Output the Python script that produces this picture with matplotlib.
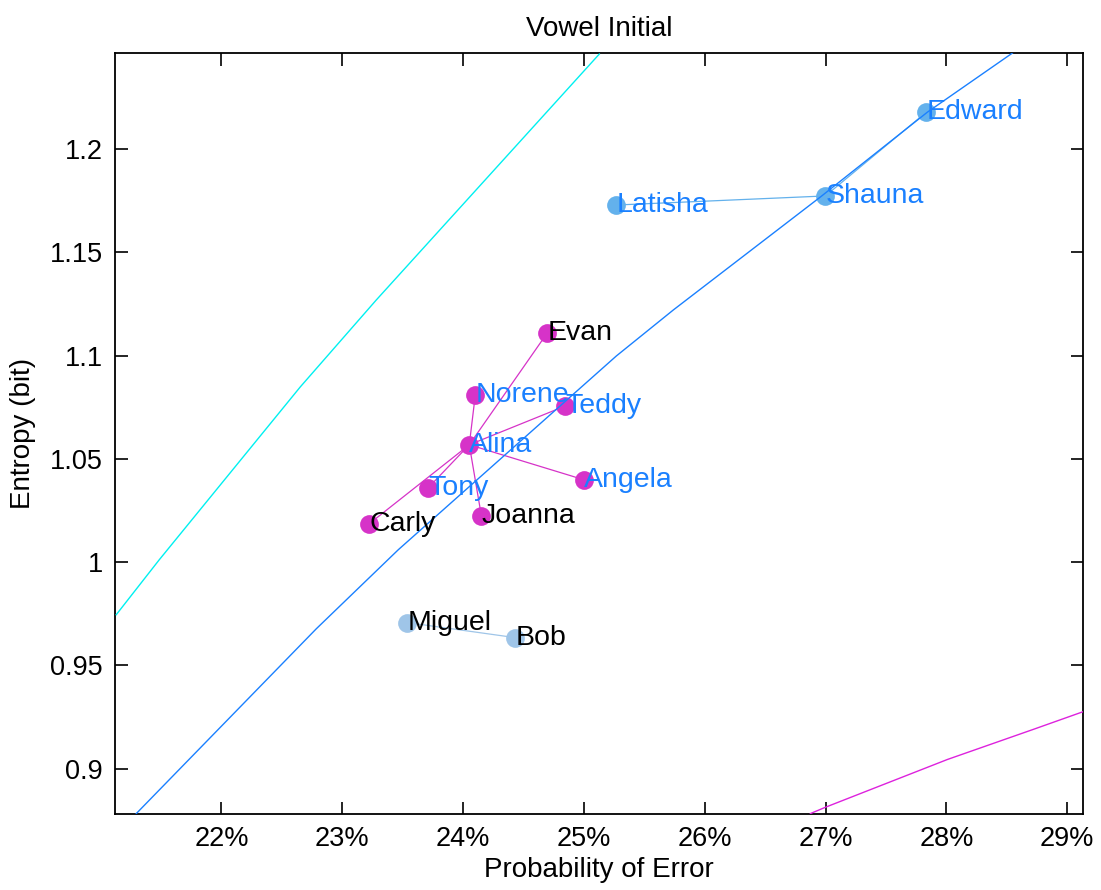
import matplotlib
matplotlib.use('Agg')
import matplotlib.pyplot as plt
from matplotlib.ticker import PercentFormatter, FixedLocator

plt.rcParams['font.family'] = ['Liberation Sans', 'DejaVu Sans']

# speakers: probability of error vs entropy
names = ['Edward', 'Shauna', 'Latisha', 'Evan', 'Norene', 'Teddy', 'Alina',
         'Angela', 'Tony', 'Joanna', 'Carly', 'Miguel', 'Bob']
perr = [0.27834, 0.26998, 0.25268, 0.24697, 0.24101, 0.24846, 0.24051,
        0.25003, 0.23712, 0.24151, 0.23224, 0.23538, 0.24432]
entropy = [1.2179, 1.1773, 1.1729, 1.1110, 1.0810, 1.0756, 1.0568,
           1.0398, 1.0360, 1.0224, 1.0186, 0.9707, 0.9634]
blue_names = ['Edward', 'Shauna', 'Latisha', 'Norene', 'Teddy', 'Alina', 'Angela', 'Tony']

group_top = ['Latisha', 'Shauna', 'Edward']
group_mid = ['Alina', 'Evan', 'Norene', 'Teddy', 'Angela', 'Tony', 'Joanna', 'Carly']
group_low = ['Miguel', 'Bob']
edges_top = [('Latisha', 'Shauna'), ('Shauna', 'Edward')]
edges_mid = [('Alina', n) for n in ['Evan', 'Norene', 'Teddy', 'Angela', 'Tony', 'Joanna', 'Carly']]
edges_low = [('Miguel', 'Bob')]

# reference curves
cyan_x = [0.21129, 0.21485, 0.22652, 0.23281, 0.25127]
cyan_y = [0.9745, 1.0011, 1.0848, 1.1269, 1.2460]
blue_x = [0.21295, 0.22785, 0.23464, 0.25268, 0.25740, 0.26957, 0.27843, 0.28546]
blue_y = [0.8782, 0.9677, 1.0060, 1.0998, 1.1221, 1.1768, 1.2179, 1.2465]
mag_x = [0.26874, 0.2700, 0.28008, 0.28725, 0.29134]
mag_y = [0.8782, 0.8813, 0.9044, 0.9191, 0.9276]

xticks = [0.22, 0.23, 0.24, 0.25, 0.26, 0.27, 0.28, 0.29]
yticks = [0.9, 0.95, 1.0, 1.05, 1.1, 1.15, 1.2]

pos = {n: (x, y) for n, x, y in zip(names, perr, entropy)}

fig = plt.figure(figsize=(11.01, 8.9), dpi=100)
ax = fig.add_axes([0.1049, 0.0854, 0.8783, 0.855])

for edges, group, col in [(edges_top, group_top, '#63b1ec'),
                          (edges_mid, group_mid, '#d633c8'),
                          (edges_low, group_low, '#9fc5e8')]:
    for a, b in edges:
        ax.plot([pos[a][0], pos[b][0]], [pos[a][1], pos[b][1]], color=col, lw=0.9, zorder=2)
    ax.plot([pos[n][0] for n in group], [pos[n][1] for n in group], 'o', ls='none',
            color=col, ms=13.5, mec='none', zorder=3)

ax.plot(cyan_x, cyan_y, color='#00f0f0', lw=1.0, zorder=4)
ax.plot(blue_x, blue_y, color='#1a80ff', lw=1.0, zorder=4)
ax.plot(mag_x, mag_y, color='#dd22dd', lw=1.0, zorder=4)

for n in names:
    c = '#1a80ff' if n in blue_names else 'black'
    ax.text(pos[n][0], pos[n][1], n, color=c, fontsize=20.5, ha='left', va='center', zorder=5)

ax.set_xlim(0.21123, 0.29126)
ax.set_ylim(0.878, 1.2465)
ax.xaxis.set_major_locator(FixedLocator(xticks))
ax.yaxis.set_major_locator(FixedLocator(yticks))
ax.xaxis.set_major_formatter(PercentFormatter(xmax=1, decimals=0))
ax.set_yticklabels(['0.9', '0.95', '1', '1.05', '1.1', '1.15', '1.2'])
ax.tick_params(direction='in', length=9, width=1.2, top=True, right=True, labelsize=19.5, pad=9)
for s in ax.spines.values():
    s.set_linewidth(1.3)

ax.set_xlabel('Probability of Error', fontsize=20, labelpad=3)
ax.set_ylabel('Entropy (bit)', fontsize=20, labelpad=10)
ax.set_title('Vowel Initial', fontsize=20, pad=12)

fig.savefig('out.png', dpi=100)
